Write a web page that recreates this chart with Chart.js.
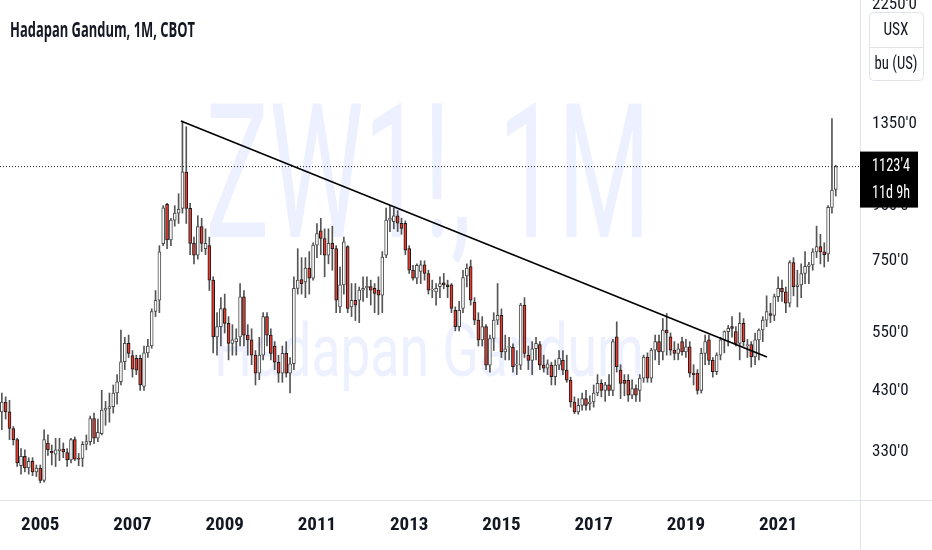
<!DOCTYPE html>
<html>
<head>
<meta charset="utf-8">
<script src="https://cdn.jsdelivr.net/npm/chart.js@4.4.1/dist/chart.umd.min.js"></script>
<style>
  html, body { margin: 0; padding: 0; background: #fff; }
  #wrap { width: 932px; height: 550px; position: relative; }
</style>
</head>
<body>
<div id="wrap"><canvas id="chart"></canvas></div>
<script>
// month index 0 = Jan 2004, one candle per month up to Apr 2022
const firstYear = 2004;

const opens = [
  380, 395, 392, 409, 392, 365, 348, 311, 324, 308, 317, 303,
  308, 292, 343, 331, 327, 332, 334, 329, 319, 348, 321, 321,
  341, 345, 381, 350, 357, 395, 398, 401, 425, 446, 486, 526,
  499, 493, 493, 437, 505, 520, 603, 633, 807, 955, 820, 893,
  920, 939, 1097, 939, 808, 768, 868, 790, 800, 690, 541, 565,
  611, 573, 526, 530, 541, 642, 545, 534, 500, 463, 500, 590,
  545, 520, 485, 463, 504, 463, 482, 666, 692, 685, 727, 696,
  802, 853, 825, 768, 808, 790, 615, 676, 797, 615, 633, 633,
  661, 667, 671, 666, 661, 647, 768, 893, 887, 909, 881, 881,
  790, 720, 696, 716, 737, 710, 661, 656, 671, 682, 676, 676,
  606, 565, 611, 703, 731, 628, 581, 534, 565, 479, 537, 581,
  593, 507, 517, 517, 479, 479, 620, 500, 489, 514, 523, 479,
  473, 479, 456, 479, 489, 469, 449, 409, 392, 403, 415, 406,
  409, 425, 443, 430, 440, 430, 541, 469, 449, 449, 421, 433,
  430, 453, 496, 453, 511, 530, 507, 557, 541, 511, 504, 530,
  507, 518, 463, 463, 430, 504, 534, 489, 466, 500, 534, 553,
  565, 553, 526, 573, 521, 523, 496, 534, 557, 581, 598, 593,
  643, 666, 656, 625, 744, 671, 676, 710, 732, 737, 779, 797,
  779, 772, 943, 1019
];
const highs = [
  410, 420, 425, 418, 412, 368, 350, 335, 333, 322, 322, 312,
  312, 363, 355, 340, 350, 350, 343, 335, 350, 352, 328, 345,
  355, 385, 390, 380, 430, 410, 425, 440, 460, 557, 540, 545,
  510, 500, 500, 520, 535, 610, 660, 800, 950, 960, 900, 950,
  1000, 1366, 1333, 960, 830, 910, 900, 860, 830, 700, 600, 640,
  650, 590, 570, 560, 680, 660, 570, 560, 510, 540, 600, 600,
  560, 530, 500, 520, 530, 495, 700, 790, 760, 760, 780, 810,
  880, 900, 860, 860, 870, 800, 730, 830, 800, 680, 680, 670,
  700, 700, 690, 680, 700, 780, 940, 950, 940, 930, 900, 890,
  800, 735, 740, 750, 750, 720, 690, 680, 700, 710, 690, 680,
  615, 630, 720, 740, 752, 640, 600, 590, 570, 545, 600, 680,
  610, 545, 540, 525, 510, 625, 640, 520, 530, 540, 530, 500,
  490, 485, 490, 510, 510, 500, 455, 418, 415, 425, 430, 420,
  440, 460, 450, 445, 460, 535, 577, 480, 460, 460, 450, 440,
  460, 500, 505, 515, 545, 545, 585, 598, 550, 530, 525, 540,
  535, 530, 480, 470, 515, 545, 545, 495, 505, 540, 555, 568,
  590, 565, 600, 585, 535, 530, 550, 560, 590, 645, 625, 650,
  700, 690, 670, 750, 760, 720, 740, 780, 745, 790, 870, 840,
  810, 950, 1380, 1130
];
const lows = [
  370, 385, 363, 380, 348, 340, 310, 300, 303, 300, 298, 297,
  289, 290, 325, 312, 310, 318, 322, 310, 315, 318, 311, 310,
  333, 340, 342, 345, 355, 370, 375, 390, 405, 440, 470, 495,
  455, 460, 430, 430, 495, 515, 590, 600, 800, 790, 800, 870,
  880, 920, 880, 770, 740, 755, 780, 770, 660, 505, 500, 520,
  550, 490, 500, 500, 520, 520, 500, 480, 440, 450, 490, 520,
  490, 470, 445, 445, 455, 425, 470, 650, 650, 640, 650, 690,
  760, 770, 700, 740, 720, 600, 600, 650, 600, 590, 580, 575,
  630, 640, 620, 600, 595, 600, 760, 850, 860, 850, 840, 770,
  710, 690, 680, 680, 690, 650, 640, 620, 640, 665, 640, 600,
  555, 555, 600, 670, 620, 570, 520, 520, 470, 465, 510, 570,
  495, 490, 490, 465, 460, 470, 495, 470, 460, 490, 470, 465,
  460, 440, 440, 470, 460, 445, 400, 389, 388, 395, 395, 395,
  400, 420, 418, 410, 420, 420, 465, 415, 420, 410, 415, 410,
  410, 445, 445, 445, 490, 480, 490, 500, 500, 490, 490, 500,
  495, 455, 440, 423, 425, 480, 480, 455, 460, 490, 505, 520,
  540, 520, 490, 520, 495, 475, 480, 490, 530, 565, 575, 580,
  630, 630, 600, 615, 645, 615, 640, 680, 680, 720, 760, 740,
  730, 748, 920, 990
];
const closes = [
  395, 400, 409, 392, 365, 348, 315, 324, 308, 317, 303, 308,
  292, 348, 333, 329, 333, 334, 330, 319, 348, 320, 320, 341,
  345, 381, 350, 359, 395, 398, 401, 425, 446, 486, 526, 504,
  471, 469, 440, 505, 520, 603, 633, 779, 941, 820, 893, 920,
  935, 1099, 939, 808, 768, 868, 808, 808, 690, 541, 565, 611,
  573, 526, 534, 537, 642, 545, 534, 500, 463, 500, 590, 545,
  504, 485, 463, 504, 463, 482, 666, 690, 680, 727, 696, 802,
  843, 825, 768, 808, 790, 633, 676, 813, 611, 633, 620, 661,
  666, 673, 661, 652, 647, 762, 893, 900, 909, 881, 862, 785,
  720, 696, 735, 737, 710, 661, 663, 666, 680, 676, 671, 611,
  565, 606, 698, 727, 633, 581, 534, 565, 479, 537, 581, 593,
  507, 514, 519, 476, 481, 620, 504, 489, 514, 526, 479, 473,
  482, 456, 479, 493, 469, 449, 409, 392, 403, 415, 403, 409,
  425, 443, 430, 440, 430, 530, 476, 443, 443, 421, 433, 421,
  453, 496, 453, 511, 530, 507, 557, 550, 511, 504, 514, 507,
  518, 463, 460, 430, 504, 530, 489, 466, 500, 534, 553, 561,
  561, 526, 573, 530, 523, 496, 534, 557, 581, 603, 593, 643,
  666, 656, 625, 744, 671, 676, 710, 732, 737, 779, 797, 779,
  770, 943, 1016, 1123.5
];

const yearLabels = [2005, 2007, 2009, 2011, 2013, 2015, 2017, 2019, 2021];
const priceTicks = [330, 430, 550, 750, 950, 1350, 2250];

const lastPrice = 1123.5;
const timeLeft = '11d 9h';
const trendStart = { month: 48.6, price: 1366 };
const trendEnd = { month: 201.1, price: 496 };

const viewFirstMonth = 1.53;
const viewLastMonth = 225.3;
const priceMin = 268.5;
const priceMax = 2297;

const titleText = 'Hadapan Gandum, 1M, CBOT';
const watermarkBig = 'ZW1!, 1M';
const watermarkSmall = 'Hadapan Gandum';
const unitTop = 'USX';
const unitBottom = 'bu (US)';

const upFill = '#ffffff', upLine = '#4a4a4a';
const downFill = '#e63b2e', downLine = '#1a1a1a';
const wickColor = '#555555';
const textColor = '#131722';
const lineGray = '#e0e3eb';
const narrowFont = "'Roboto Condensed', 'Liberation Sans Narrow', 'DejaVu Sans Condensed', Roboto";

function fmtPrice(p) {
  const whole = Math.floor(p);
  const eighths = Math.round((p - whole) * 8);
  return whole + "'" + eighths;
}

function squeezed(ctx, text, x, y, font, color, align, width) {
  ctx.save();
  ctx.font = font;
  ctx.fillStyle = color;
  ctx.textAlign = align;
  ctx.textBaseline = 'middle';
  const w = ctx.measureText(text).width;
  ctx.translate(x, y);
  ctx.scale(width / w, 1);
  ctx.fillText(text, 0, 0);
  ctx.restore();
}

const isUp = closes.map((c, i) => c >= opens[i]);

// watermark behind candles
const watermark = {
  id: 'watermark',
  beforeDatasetsDraw(chart) {
    const ctx = chart.ctx;
    ctx.save();
    ctx.fillStyle = 'rgba(41,98,255,0.085)';
    ctx.textAlign = 'center';
    ctx.textBaseline = 'alphabetic';
    ctx.font = '188px Roboto';
    let w = ctx.measureText(watermarkBig).width;
    ctx.translate(428, 237);
    ctx.scale(445 / w, 1);
    ctx.fillText(watermarkBig, 0, 0);
    ctx.restore();
    ctx.save();
    ctx.fillStyle = 'rgba(41,98,255,0.085)';
    ctx.textAlign = 'center';
    ctx.textBaseline = 'alphabetic';
    ctx.font = '75px Roboto';
    w = ctx.measureText(watermarkSmall).width;
    ctx.translate(429, 376);
    ctx.scale(430 / w, 1);
    ctx.fillText(watermarkSmall, 0, 0);
    ctx.restore();
  }
};

// title, unit box, last price label, pane separators
const overlay = {
  id: 'overlay',
  afterDraw(chart) {
    const ctx = chart.ctx;
    const area = chart.chartArea;
    const yScale = chart.scales.y;

    ctx.save();
    ctx.strokeStyle = lineGray;
    ctx.lineWidth = 1;
    ctx.beginPath();
    ctx.moveTo(area.right + 0.5, area.bottom);
    ctx.lineTo(area.right + 0.5, chart.height);
    ctx.moveTo(area.right, area.bottom + 0.5);
    ctx.lineTo(chart.width, area.bottom + 0.5);
    ctx.stroke();
    ctx.restore();

    squeezed(ctx, titleText, 10, 31, 'bold 22px "Open Sans"', textColor, 'left', 185);

    // unit box
    ctx.save();
    ctx.fillStyle = '#fff';
    ctx.strokeStyle = lineGray;
    ctx.lineWidth = 1;
    ctx.beginPath();
    ctx.roundRect(869.5, 12.5, 54, 68, 4);
    ctx.fill();
    ctx.stroke();
    ctx.beginPath();
    ctx.moveTo(869.5, 47.5);
    ctx.lineTo(923.5, 47.5);
    ctx.stroke();
    ctx.restore();
    squeezed(ctx, unitTop, 896, 30, '18px ' + narrowFont, textColor, 'center', 25);
    squeezed(ctx, unitBottom, 896, 64, '18px ' + narrowFont, textColor, 'center', 43);

    // last price label
    const py = yScale.getPixelForValue(lastPrice);
    ctx.save();
    ctx.fillStyle = '#000';
    ctx.fillRect(area.right, py - 15, 58, 56);
    ctx.restore();
    squeezed(ctx, fmtPrice(lastPrice), 872, py, '18px ' + narrowFont, '#fff', 'left', 38);
    squeezed(ctx, timeLeft, 872, py + 27, '18px ' + narrowFont, '#fff', 'left', 38);
  }
};

const wickData = highs.map((h, i) => ({ x: i, y: [lows[i], h] }));
const bodyData = opens.map((o, i) => ({ x: i, y: [o, closes[i]] }));

new Chart(document.getElementById('chart'), {
  type: 'bar',
  data: {
    datasets: [
      {
        type: 'line',
        data: [
          { x: trendStart.month, y: trendStart.price },
          { x: trendEnd.month, y: trendEnd.price }
        ],
        borderColor: '#000',
        borderWidth: 1.6,
        pointRadius: 0,
        order: 0
      },
      {
        type: 'line',
        data: [
          { x: viewFirstMonth, y: lastPrice },
          { x: viewLastMonth, y: lastPrice }
        ],
        borderColor: '#222',
        borderWidth: 1,
        borderDash: [1, 2],
        pointRadius: 0,
        order: 0
      },
      {
        data: bodyData,
        backgroundColor: isUp.map(u => (u ? upFill : downFill)),
        borderColor: isUp.map(u => (u ? upLine : downLine)),
        borderWidth: 1,
        borderSkipped: false,
        barThickness: 3,
        minBarLength: 1,
        grouped: false,
        order: 1
      },
      {
        data: wickData,
        backgroundColor: wickColor,
        barThickness: 1,
        grouped: false,
        order: 2
      }
    ]
  },
  options: {
    responsive: true,
    maintainAspectRatio: false,
    animation: false,
    layout: { padding: 0 },
    plugins: {
      legend: { display: false },
      tooltip: { enabled: false }
    },
    scales: {
      x: {
        type: 'linear',
        offset: false,
        min: viewFirstMonth,
        max: viewLastMonth,
        grid: { display: false, drawTicks: false, offset: false },
        border: { color: lineGray },
        afterBuildTicks: (scale) => {
          scale.ticks = yearLabels.map(y => ({ value: (y - firstYear) * 12 }));
        },
        afterFit: (scale) => {
          scale.height = 50;
          scale.paddingLeft = 0;
          scale.paddingRight = 0;
        },
        ticks: {
          autoSkip: false,
          maxRotation: 0,
          padding: 14,
          color: textColor,
          font: { family: narrowFont, size: 19, weight: 'bold' },
          callback: (v) => String(firstYear + v / 12)
        }
      },
      y: {
        type: 'logarithmic',
        position: 'right',
        min: priceMin,
        max: priceMax,
        grid: { display: false, drawTicks: false },
        border: { color: lineGray },
        afterBuildTicks: (scale) => {
          scale.ticks = priceTicks.map(v => ({ value: v }));
        },
        afterFit: (scale) => {
          scale.width = 72;
          scale.paddingTop = 0;
          scale.paddingBottom = 0;
        },
        ticks: {
          padding: 12,
          color: textColor,
          font: { family: narrowFont, size: 17 },
          callback: (v) => fmtPrice(v)
        }
      }
    }
  },
  plugins: [watermark, overlay]
});
</script>
</body>
</html>
